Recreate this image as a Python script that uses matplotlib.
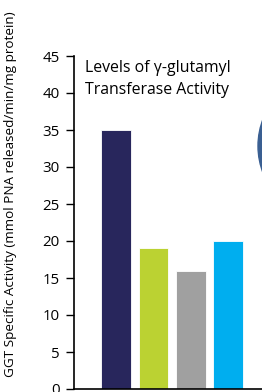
import numpy as np
import matplotlib
matplotlib.use("Agg")
import matplotlib.pyplot as plt
from matplotlib.patches import Ellipse

plt.rcParams['font.family'] = ['Open Sans', 'DejaVu Sans']

groups = ['A', 'B', 'C', 'D']
ggt_activity = [35, 19.1, 16, 20]
bar_colors = ['#28265C', '#BBD232', '#A0A0A0', '#00AEEF']
yticks = np.arange(0, 50, 5)

fig = plt.figure(figsize=(2.62, 3.92), dpi=100)
ax = fig.add_axes([74 / 262, 3 / 392, 188 / 262, 333 / 392])

x = np.arange(len(groups))
ax.bar(x, ggt_activity, width=0.8, color=bar_colors, edgecolor='white', linewidth=0.6)

ax.set_xlim(-1.14, 3.92)
ax.set_ylim(0, 45)
ax.set_yticks(yticks)
ax.set_xticks([])
ax.tick_params(axis='y', direction='out', length=6, width=1, labelsize=10.8, pad=4.5)
for s in ['top', 'right']:
    ax.spines[s].set_visible(False)
ax.spines['left'].set_linewidth(1.2)
ax.spines['bottom'].set_linewidth(1.2)

ax.text(-0.84, 44.4, 'Levels of γ-glutamyl\nTransferase Activity', fontsize=11.4,
        va='top', ha='left', linespacing=1.45)

fig.text(0.04, 0.505, 'GGT Specific Activity (mmol PNA released/min/mg protein)',
         rotation=90, ha='center', va='center', fontsize=9.7)

# partial circle at the right edge
circ = Ellipse((332 / 262, 1 - 146 / 392), 2 * 74 / 262, 2 * 74 / 392,
               transform=fig.transFigure, color='#3A5F92', clip_on=False)
fig.patches.append(circ)

fig.savefig('out.png', dpi=100)
